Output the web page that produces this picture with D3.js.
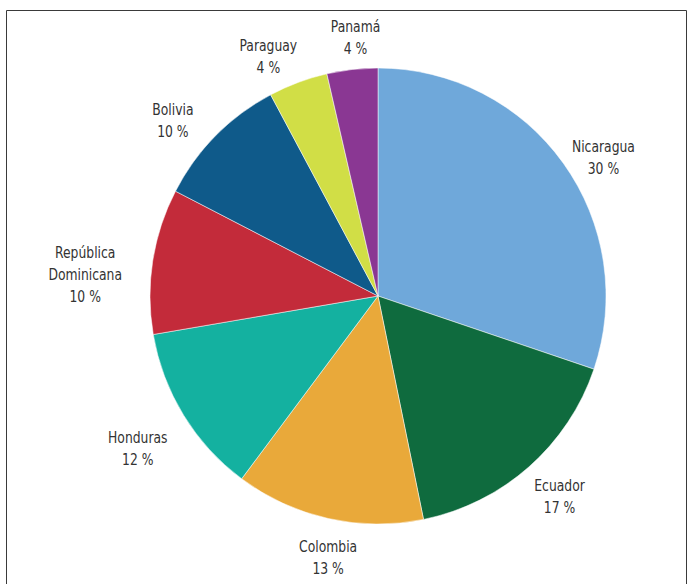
<!DOCTYPE html>
<html>
<head>
<meta charset="utf-8">
<script src="https://cdn.jsdelivr.net/npm/d3@7"></script>
<style>
  body { margin: 0; background: #fff; }
  text { font-family: "Liberation Sans Narrow", "DejaVu Sans Condensed", sans-serif; }
</style>
</head>
<body>
<div id="chart"></div>
<script>
// Data (share of total)
const countries = ["Nicaragua", "Ecuador", "Colombia", "Honduras",
    "República Dominicana", "Bolivia", "Paraguay", "Panamá"];
const shares = [30.2, 16.6, 13.4, 12.1, 10.3, 9.6, 4.2, 3.6];
const colors = ["#6fa8da", "#0f6b3e", "#e9a93a", "#14b1a0",
    "#c32b3a", "#0f5a8a", "#d1de46", "#8a3793"];

const width = 692, height = 584;
const cx = 378, cy = 296, radius = 228;

const svg = d3.select("#chart")
    .append("svg")
    .attr("width", width)
    .attr("height", height);

// frame around the figure (runs off the bottom)
svg.append("path")
    .attr("d", `M6.5,${height} V10.5 H686.5 V${height}`)
    .attr("fill", "none")
    .attr("stroke", "#3a3a3a")
    .attr("stroke-width", 1);

const data = countries.map((c, i) => ({name: c, value: shares[i], color: colors[i]}));

const pie = d3.pie()
    .value(d => d.value)
    .sort(null);

const arc = d3.arc()
    .innerRadius(0)
    .outerRadius(radius);

const labelArc = d3.arc()
    .innerRadius(270)
    .outerRadius(270);

// small hand nudges so the labels sit where the original put them
const nudge = {
    "Nicaragua": [6, 19],
    "Ecuador": [3, -2],
    "Colombia": [9, -2],
    "Honduras": [-10, 11],
    "República Dominicana": [-26, 20],
    "Bolivia": [-13, 14],
    "Paraguay": [-15, 13],
    "Panamá": [8, 10]
};

const g = svg.append("g")
    .attr("transform", `translate(${cx},${cy})`);

const arcs = pie(data);

g.selectAll("path.slice")
    .data(arcs)
    .enter().append("path")
    .attr("class", "slice")
    .attr("d", arc)
    .attr("fill", d => d.data.color)
    .attr("stroke", "#fff")
    .attr("stroke-width", 0.5);

const lineH = 22;
// the original uses a narrow face, so squeeze the text a bit horizontally
const labels = g.selectAll("text.label")
    .data(arcs)
    .enter().append("text")
    .attr("class", "label")
    .attr("text-anchor", "middle")
    .attr("font-size", 16)
    .attr("fill", "#333")
    .attr("transform", d => {
        const [x, y] = labelArc.centroid(d);
        const n = nudge[d.data.name] || [0, 0];
        return `translate(${x + n[0]},${y + n[1]}) scale(0.86,1)`;
    });

labels.each(function(d) {
    const lines = d.data.name === "República Dominicana"
        ? ["República", "Dominicana"] : [d.data.name];
    lines.push(Math.round(d.data.value) + " %");
    const t = d3.select(this);
    const top = -(lines.length - 1) * lineH / 2;
    lines.forEach((l, i) => {
        t.append("tspan")
            .attr("x", 0)
            .attr("y", top + i * lineH)
            .attr("dy", "0.35em")
            .text(l);
    });
});
</script>
</body>
</html>
